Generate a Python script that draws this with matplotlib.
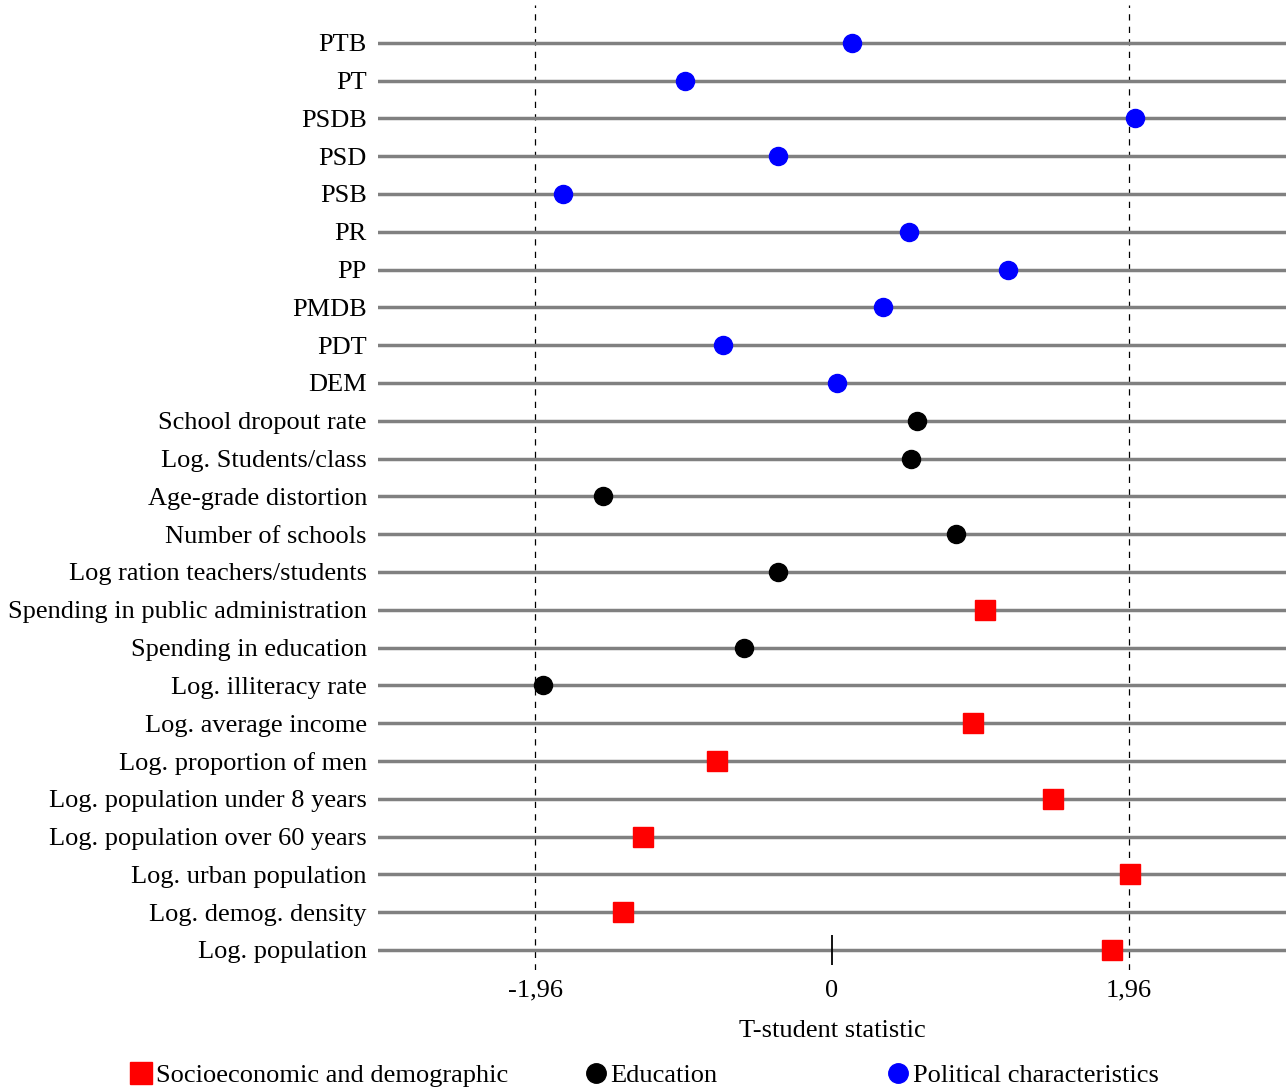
import matplotlib
matplotlib.use("Agg")
import matplotlib.pyplot as plt
from matplotlib.lines import Line2D

plt.rcParams['font.family'] = ['Liberation Serif', 'DejaVu Serif']

# variables from bottom to top
labels = ["Log. population", "Log. demog. density", "Log. urban population",
          "Log. population over 60 years", "Log. population under 8 years",
          "Log. proportion of men", "Log. average income", "Log. illiteracy rate",
          "Spending in education", "Spending in public administration",
          "Log ration teachers/students", "Number of schools",
          "Age-grade distortion", "Log. Students/class", "School dropout rate",
          "DEM", "PDT", "PMDB", "PP", "PR", "PSB", "PSD", "PSDB", "PT", "PTB"]
tstat = [1.85, -1.38, 1.97, -1.25, 1.46, -0.76, 0.93, -1.91, -0.58, 1.01,
         -0.36, 0.82, -1.51, 0.52, 0.56,
         0.03, -0.72, 0.34, 1.16, 0.51, -1.78, -0.36, 2.0, -0.97, 0.13]
group = ["socio"] * 7 + ["edu", "edu", "socio", "edu", "edu", "edu", "edu", "edu"] + ["pol"] * 10

styles = {"socio": ("s", "red", 14.5),
          "edu": ("o", "black", 13),
          "pol": ("o", "blue", 13)}
names = {"socio": "Socioeconomic and demographic",
         "edu": "Education",
         "pol": "Political characteristics"}
fs = 19

fig = plt.figure(figsize=(12.86, 10.91), dpi=100)
ax = fig.add_axes([378 / 1286, 1 - 970 / 1091, 1 - 378 / 1286, (970 - 5) / 1091])

y = list(range(len(labels)))
for yi in y:
    ax.axhline(yi, color="#808080", lw=2.5, zorder=1)

ax.axvline(-1.96, color="black", ls=(0, (5, 5)), lw=0.9, zorder=0)
ax.axvline(1.96, color="black", ls=(0, (5, 5)), lw=0.9, zorder=0)
ax.plot([0], [0], marker="|", color="black", ms=22, mew=1.3, zorder=2)

for g in ["socio", "edu", "pol"]:
    xs = [t for t, gg in zip(tstat, group) if gg == g]
    ys = [yy for yy, gg in zip(y, group) if gg == g]
    m, c, s = styles[g]
    ax.plot(xs, ys, ls="none", marker=m, color=c, ms=s, zorder=3)

ax.set_xlim(-3, 3)
ax.set_ylim(-0.53, 25.0)
ax.set_yticks(y)
ax.set_yticklabels(labels, fontsize=fs)
ax.set_xticks([-1.96, 0, 1.96])
ax.set_xticklabels(["-1,96", "0", "1,96"], fontsize=fs)
ax.tick_params(axis="y", length=0, pad=8)
ax.tick_params(axis="x", length=0, pad=7)
ax.set_xlabel("T-student statistic", fontsize=fs, labelpad=13)
for sp in ax.spines.values():
    sp.set_visible(False)

# legend entries placed separately, as in the original
xpos = {"socio": 128, "edu": 583, "pol": 885}
for g in ["socio", "edu", "pol"]:
    h = Line2D([], [], ls="none", marker=styles[g][0], color=styles[g][1],
               ms=styles[g][2] + 1, label=names[g])
    fig.legend(handles=[h], loc="center left",
               bbox_to_anchor=(xpos[g] / 1286, 1 - 1075 / 1091),
               frameon=False, fontsize=fs, handletextpad=0.05,
               handlelength=1.0, borderpad=0, borderaxespad=0)

fig.savefig("out.png", dpi=100)
